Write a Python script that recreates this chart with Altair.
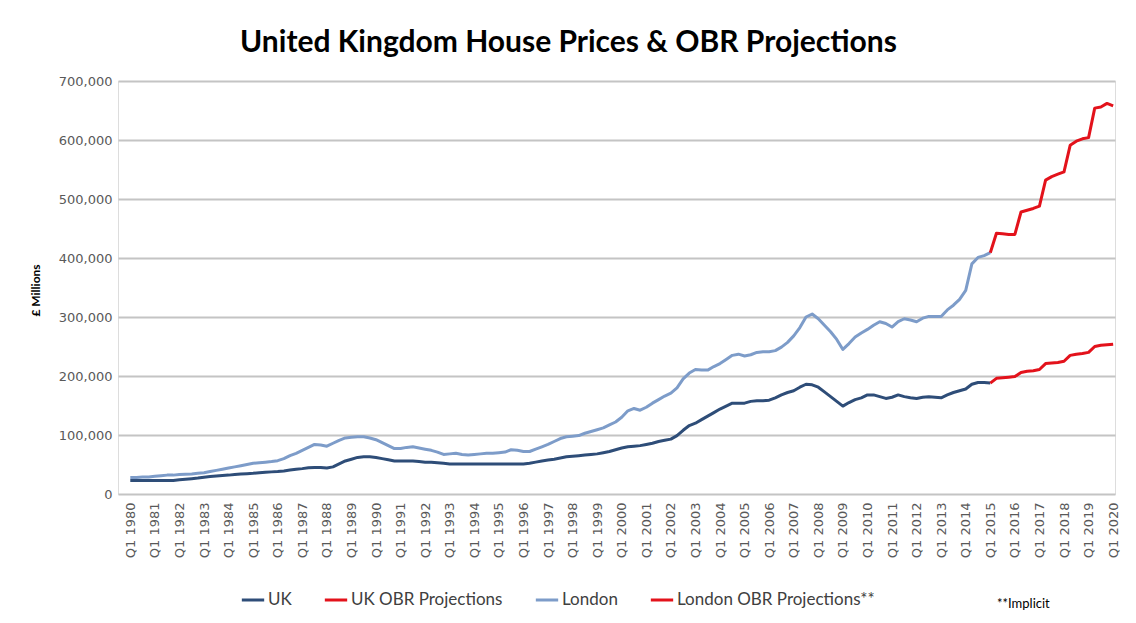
import altair as alt
import pandas as pd

# Quarterly values (GBP), Q1 1980 .. Q1 2015 (141 values)
uk_hist = [
    23000, 23000, 23000, 23000,   # 1980
    23000, 23000, 23000, 23000,   # 1981
    24000, 25000, 26000, 27000,   # 1982
    28500, 29500, 30500, 31500,   # 1983
    32000, 33000, 34000, 34500,   # 1984
    35000, 36000, 37000, 37500,   # 1985
    38000, 39000, 40500, 42000,   # 1986
    43000, 44500, 45000, 45000,   # 1987
    44000, 46000, 51000, 56000,   # 1988
    59000, 62000, 63000, 63000,   # 1989
    62000, 60000, 58000, 56000,   # 1990
    56000, 56000, 56000, 55000,   # 1991
    54000, 54000, 53000, 52000,   # 1992
    51000, 51000, 51000, 51000,   # 1993
    51000, 51000, 51000, 51000,   # 1994
    51000, 51000, 51000, 51000,   # 1995
    51000, 52000, 54000, 56000,   # 1996
    57500, 59000, 61000, 63000,   # 1997
    64000, 65000, 66000, 67000,   # 1998
    68000, 70000, 72000, 75000,   # 1999
    78000, 80000, 81000, 82000,   # 2000
    84000, 86000, 89000, 91000,   # 2001
    93000, 99000, 108000, 116000, # 2002
    120000, 126000, 132000, 138000, # 2003
    144000, 149000, 154000, 154000, # 2004
    154000, 157000, 158000, 158000, # 2005
    159000, 163000, 168000, 172000, # 2006
    175000, 181000, 186000, 185000, # 2007
    181000, 173000, 165000, 157000, # 2008
    149000, 155000, 160000, 163000, # 2009
    168000, 168000, 165000, 162000, # 2010
    164000, 168000, 165000, 163000, # 2011
    162000, 164000, 165000, 164000, # 2012
    163000, 168000, 172000, 175000, # 2013
    178000, 186000, 189000, 189000, # 2014
    188000,                         # Q1 2015
]

london_hist = [
    28000, 28000, 29000, 29000,   # 1980
    30000, 31000, 32000, 32000,   # 1981
    33000, 33500, 34000, 35000,   # 1982
    36000, 38000, 40000, 42000,   # 1983
    44000, 46000, 48000, 50000,   # 1984
    52000, 53000, 54000, 55000,   # 1985
    56500, 60000, 65000, 69000,   # 1986
    74000, 79000, 84000, 83000,   # 1987
    81000, 86000, 91000, 95000,   # 1988
    96000, 97000, 97000, 95000,   # 1989
    92000, 87000, 82000, 77000,   # 1990
    77000, 79000, 80000, 78000,   # 1991
    76000, 74000, 71000, 67000,   # 1992
    68000, 69000, 67000, 66000,   # 1993
    67000, 68000, 69000, 69000,   # 1994
    70000, 71000, 75000, 74000,   # 1995
    72000, 72000, 76000, 80000,   # 1996
    84000, 89000, 94000, 97000,   # 1997
    98000, 99000, 103000, 106000, # 1998
    109000, 112000, 117000, 122000, # 1999
    130000, 141000, 145000, 142000, # 2000
    147000, 154000, 160000, 166000, # 2001
    171000, 180000, 195000, 205000, # 2002
    211000, 210000, 210000, 216000, # 2003
    221000, 228000, 235000, 237000, # 2004
    234000, 236000, 240000, 241000, # 2005
    241000, 243000, 249000, 257000, # 2006
    268000, 282000, 300000, 305000, # 2007
    297000, 286000, 275000, 262000, # 2008
    245000, 255000, 266000, 273000, # 2009
    279000, 286000, 292000, 289000, # 2010
    283000, 292000, 297000, 295000, # 2011
    292000, 298000, 301000, 301000, # 2012
    301000, 312000, 320000, 330000, # 2013
    345000, 390000, 401000, 404000, # 2014
    409000,                         # Q1 2015
]

# OBR projections, Q1 2015 .. Q1 2020 (21 values)
uk_proj = [
    188000, 196000, 197000, 198000,
    199000, 206000, 208000, 209000,
    211000, 221000, 222000, 223000,
    225000, 235000, 237000, 238000,
    240000, 250000, 252000, 253000,
    254000,
]
london_proj = [
    409000, 442000, 441000, 440000,
    440000, 478000, 481000, 484000,
    488000, 532000, 538000, 542000,
    546000, 591000, 598000, 602000,
    604000, 654000, 656000, 662000,
    658000,
]

series_names = ["UK", "UK OBR Projections", "London", "London OBR Projections**"]
series_colors = ["#2E4D78", "#E3121B", "#7D9CC9", "#E3121B"]
proj_start = 140  # quarter index of Q1 2015

rows = []
for i, v in enumerate(uk_hist):
    rows.append({"t": i, "value": v, "series": series_names[0]})
for i, v in enumerate(uk_proj):
    rows.append({"t": proj_start + i, "value": v, "series": series_names[1]})
for i, v in enumerate(london_hist):
    rows.append({"t": i, "value": v, "series": series_names[2]})
for i, v in enumerate(london_proj):
    rows.append({"t": proj_start + i, "value": v, "series": series_names[3]})
df = pd.DataFrame(rows)

tick_vals = list(range(0, 161, 4))

lines = alt.Chart(df).mark_line(strokeWidth=3, strokeJoin="round").encode(
    x=alt.X(
        "t:Q",
        scale=alt.Scale(domain=[-2, 160.3], nice=False, zero=False),
        axis=alt.Axis(
            values=tick_vals,
            labelExpr="'Q1 ' + (1980 + datum.value / 4)",
            labelAngle=270,
            labelAlign="right",
            labelBaseline="middle",
            labelFont="DejaVu Sans",
            labelFontSize=13,
            labelColor="#595959",
            labelPadding=8,
            labelOverlap=False,
            grid=False,
            ticks=False,
            domain=False,
            title=None,
        ),
    ),
    y=alt.Y(
        "value:Q",
        scale=alt.Scale(domain=[0, 700000], nice=False),
        axis=alt.Axis(
            values=[0, 100000, 200000, 300000, 400000, 500000, 600000, 700000],
            format=",d",
            labelFont="DejaVu Sans",
            labelFontSize=13,
            labelColor="#595959",
            labelPadding=6,
            ticks=False,
            domain=False,
            grid=True,
            gridColor="#C4C4C4",
            gridWidth=2,
            title="£ Millions",
            titleFont="Lato",
            titleFontSize=12,
            titleFontWeight="bold",
            titleColor="#000000",
            titleAngle=270,
            titleX=-83,
            titleY=209,
            titleAlign="center",
            titleBaseline="middle",
        ),
    ),
    color=alt.Color(
        "series:N",
        scale=alt.Scale(domain=series_names, range=series_colors),
        sort=series_names,
        legend=alt.Legend(
            title=None,
            orient="none",
            direction="horizontal",
            legendX=122,
            legendY=506,
            symbolType="stroke",
            symbolStrokeWidth=3,
            symbolSize=500,
            labelFont="Lato",
            labelFontSize=17,
            labelColor="#404040",
            columnPadding=26,
            labelOffset=2,
            labelLimit=400,
        ),
    ),
    detail="series:N",
)

note = alt.Chart(pd.DataFrame({"label": ["**Implicit"]})).mark_text(
    font="Lato", fontSize=13, color="#000000", align="left", baseline="middle"
).encode(
    x=alt.value(879),
    y=alt.value(523),
    text="label:N",
)

chart = alt.layer(lines, note).properties(
    width=997,
    height=413,
    title=alt.TitleParams(
        "United Kingdom House Prices & OBR Projections",
        font="Lato",
        fontSize=30,
        fontWeight="bold",
        color="#000000",
        anchor="middle",
        dx=-48,
        offset=17,
    ),
    autosize=alt.AutoSizeParams(type="none"),
    padding={"left": 110, "top": 73, "right": 10, "bottom": 124},
).configure_view(stroke=None).configure(background="white")

chart.save("out.html", embed_options={"renderer": "svg", "actions": False})
